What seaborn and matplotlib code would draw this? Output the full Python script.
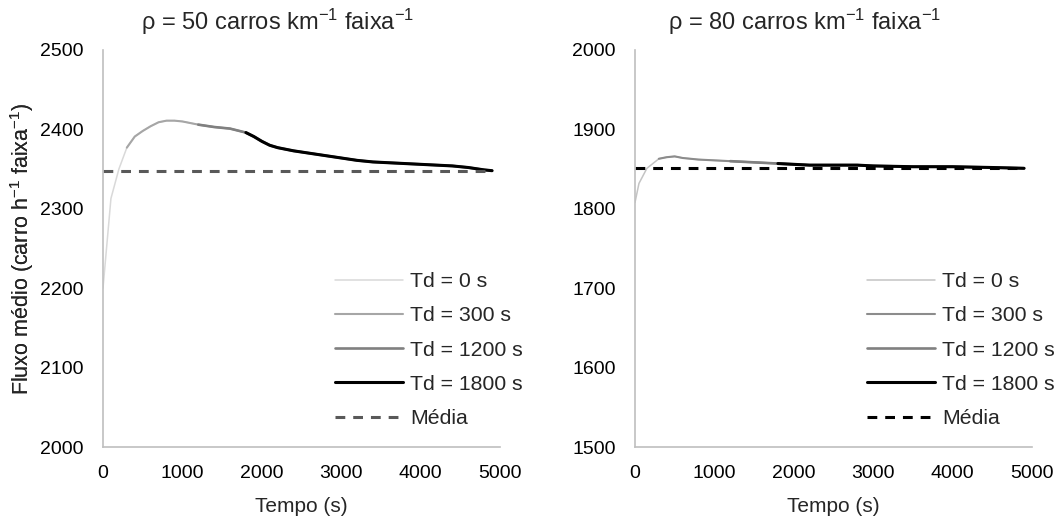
import numpy as np
import pandas as pd
import matplotlib
matplotlib.use("Agg")
import matplotlib.pyplot as plt
import seaborn as sns

# ---------------- data ----------------
td_values = [0, 300, 1200, 1800]
td_labels = ["Td = 0 s", "Td = 300 s", "Td = 1200 s", "Td = 1800 s"]

t50 = [0, 100, 200, 300, 400, 500, 600, 700, 800, 900, 1000, 1200, 1400, 1600,
       1800, 1900, 2000, 2100, 2200, 2400, 2600, 2800, 3000, 3200, 3400, 3600,
       3800, 4000, 4200, 4400, 4600, 4800, 4900]
flow50 = [2200, 2313, 2350, 2377, 2391, 2398, 2404, 2409, 2411, 2411, 2410, 2406,
          2403, 2401, 2396, 2391, 2385, 2380, 2377, 2373, 2370, 2367, 2364, 2361,
          2359, 2358, 2357, 2356, 2355, 2354, 2352, 2349, 2348]
mean50 = 2348

t80 = [0, 50, 150, 300, 400, 500, 600, 800, 1000, 1200, 1400, 1600, 1800, 2000,
       2200, 2500, 2800, 3000, 3500, 4000, 4500, 4900]
flow80 = [1808, 1832, 1851, 1863, 1865, 1866, 1864, 1862, 1861, 1860, 1859, 1858,
          1857, 1856, 1855, 1855, 1855, 1854, 1853, 1853, 1852, 1851]
mean80 = 1851

titles = ["ρ = 50 carros km$^{\\mathrm{-1}}$ faixa$^{\\mathrm{-1}}$",
          "ρ = 80 carros km$^{\\mathrm{-1}}$ faixa$^{\\mathrm{-1}}$"]
ylabel = "Fluxo médio (carro h$^{\\mathrm{-1}}$ faixa$^{\\mathrm{-1}}$)"
xlabel = "Tempo (s)"
mean_label = "Média"

# ---------------- style ----------------
sns.set_style("white")
plt.rcParams["font.family"] = ["Liberation Sans", "DejaVu Sans"]
plt.rcParams["mathtext.fontset"] = "custom"
plt.rcParams["mathtext.rm"] = "Liberation Sans"
plt.rcParams["mathtext.it"] = "Liberation Sans:italic"
plt.rcParams["mathtext.bf"] = "Liberation Sans:bold"

W, H = 1059, 516
fig = plt.figure(figsize=(W / 100, H / 100), dpi=100)

panels = [
    dict(t=t50, f=flow50, mean=mean50, ylim=(2000, 2500), yticks=[2000, 2100, 2200, 2300, 2400, 2500],
         left=103, colors=["#d9d9d9", "#a6a6a6", "#808080", "#000000"], lws=[1.1, 1.5, 1.9, 2.2],
         mcolor="#595959", title_x=278, leg_x=335),
    dict(t=t80, f=flow80, mean=mean80, ylim=(1500, 2000), yticks=[1500, 1600, 1700, 1800, 1900, 2000],
         left=635, colors=["#c4c4c4", "#8c8c8c", "#808080", "#000000"], lws=[1.1, 1.5, 1.9, 2.2],
         mcolor="#000000", title_x=805, leg_x=867),
]

ax_w, ax_top, ax_bot = 397, 50, 447
for i, p in enumerate(panels):
    ax = fig.add_axes([p["left"] / W, 1 - ax_bot / H, ax_w / W, (ax_bot - ax_top) / H])
    t = np.array(p["t"])
    f = np.array(p["f"])
    handles = []
    for td, lab, c, lw in zip(td_values, td_labels, p["colors"], p["lws"]):
        m = t >= td
        df = pd.DataFrame({"t": t[m], "f": f[m]})
        sns.lineplot(data=df, x="t", y="f", ax=ax, color=c, linewidth=lw, label=lab, legend=False)
        handles.append(ax.lines[-1])
    dfm = pd.DataFrame({"t": [t[0], t[-1]], "f": [p["mean"], p["mean"]]})
    sns.lineplot(data=dfm, x="t", y="f", ax=ax, color=p["mcolor"], linewidth=2.2,
                 label=mean_label, legend=False)
    ax.lines[-1].set_dashes((3.2, 2.6))
    handles.append(ax.lines[-1])

    ax.set_xlim(0, 5000)
    ax.set_ylim(*p["ylim"])
    ax.set_xticks([0, 1000, 2000, 3000, 4000, 5000])
    ax.set_yticks(p["yticks"])
    ax.tick_params(axis="both", length=0, labelsize=14, colors="#000000")
    ax.tick_params(axis="x", pad=13)
    ax.tick_params(axis="y", pad=14)
    for s in ["top", "right"]:
        ax.spines[s].set_visible(False)
    for s in ["left", "bottom"]:
        ax.spines[s].set_color("#bfbfbf")
        ax.spines[s].set_linewidth(1.2)
    ax.set_xlabel(xlabel, fontsize=15)
    ax.set_ylabel(ylabel, fontsize=15.5)
    ax.xaxis.set_label_coords(0.5, (ax_bot - 497) / (ax_bot - ax_top))
    ax.xaxis.label.set_va("top")
    ax.yaxis.set_label_coords((36 - p["left"]) / ax_w, 0.5)

    fig.text(p["title_x"] / W, 1 - 22 / H, titles[i], ha="center", va="center", fontsize=17)

    ax.legend(handles=handles, labels=td_labels + [mean_label], loc="upper left",
              bbox_to_anchor=(p["leg_x"] / W, 1 - 272 / H), bbox_transform=fig.transFigure,
              frameon=False, borderpad=0, borderaxespad=0, fontsize=15.3,
              handlelength=3.2, handletextpad=0.34, labelspacing=0.72)

fig.savefig("out.png", dpi=100)
